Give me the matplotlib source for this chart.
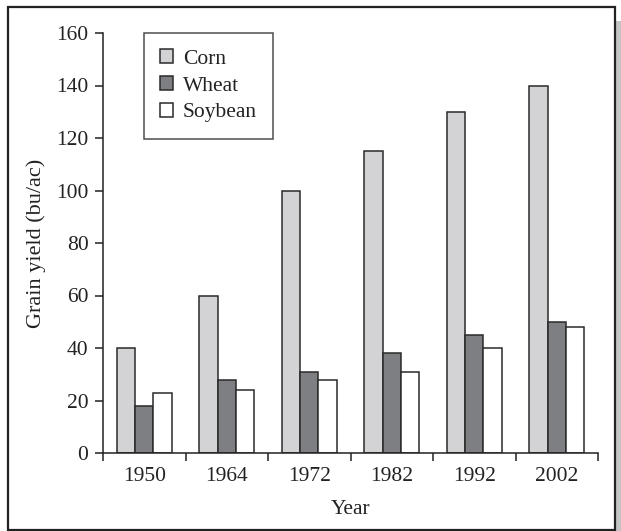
import numpy as np
import matplotlib
matplotlib.use("Agg")
import matplotlib.pyplot as plt
from matplotlib.patches import Rectangle

years = ["1950", "1964", "1972", "1982", "1992", "2002"]
corn = [40, 60, 100, 115, 130, 140]
wheat = [18, 28, 31, 38, 45, 50]
soybean = [23, 24, 28, 31, 40, 48]

plt.rcParams["font.family"] = ["Liberation Serif", "DejaVu Serif"]
FS = 15.5
TXT = "#222222"

fig = plt.figure(figsize=(6.21, 5.31), dpi=100)
W, H = 621.0, 531.0

# outer frame + grey strip on the right
fig.patches.append(Rectangle((616 / W, 0), 5 / W, (531 - 21) / H,
                             transform=fig.transFigure, facecolor="#c4c4c4",
                             edgecolor="none", zorder=-2))
fig.patches.append(Rectangle((8 / W, 1 / H), (615 - 8) / W, (524 - 1) / H,
                             transform=fig.transFigure, facecolor="white",
                             edgecolor=TXT, linewidth=1.6, zorder=-1))

ax = fig.add_axes([103 / W, 1 - 453 / H, (598 - 103) / W, (453 - 33) / H])
ax.patch.set_alpha(0)

x = np.arange(len(years)) + 0.5
w = 0.222
edge = "#2a2a2a"
ax.bar(x - w, corn, w, color="#d3d3d5", edgecolor=edge, linewidth=1.1, label="Corn")
ax.bar(x, wheat, w, color="#7e7f83", edgecolor=edge, linewidth=1.1, label="Wheat")
ax.bar(x + w, soybean, w, color="white", edgecolor=edge, linewidth=1.1, label="Soybean")

ax.set_xlim(0, len(years))
ax.set_ylim(0, 160)
ax.set_yticks(np.arange(0, 161, 20))
ax.set_xticks(np.arange(len(years) + 1))
ax.set_xticklabels([])
ax.set_xticks(x, minor=True)
ax.set_xticklabels(years, minor=True)
ax.tick_params(axis="x", which="minor", length=0, pad=10, labelsize=FS, colors=TXT)
ax.tick_params(axis="x", which="major", length=6, width=1.1, direction="out", color=TXT)
ax.tick_params(axis="y", length=5.5, width=1.1, direction="out", pad=5, labelsize=FS,
               colors=TXT)

for s in ["top", "right"]:
    ax.spines[s].set_visible(False)
for s in ["left", "bottom"]:
    ax.spines[s].set_linewidth(1.1)
    ax.spines[s].set_color(TXT)

ax.set_xlabel("Year", fontsize=FS, color=TXT, labelpad=10)
ax.set_ylabel("Grain yield (bu/ac)", fontsize=16, color=TXT, labelpad=7)

leg = ax.legend(loc="upper left", bbox_to_anchor=(41 / 495, 1.0), fontsize=FS,
                frameon=True, fancybox=False, edgecolor=TXT,
                handlelength=0.6, handleheight=0.6, handletextpad=0.45,
                borderpad=0.75, labelspacing=0.35, borderaxespad=0)
leg.get_frame().set_linewidth(1.1)
for t in leg.get_texts():
    t.set_color(TXT)

fig.savefig("out.png", dpi=100)
